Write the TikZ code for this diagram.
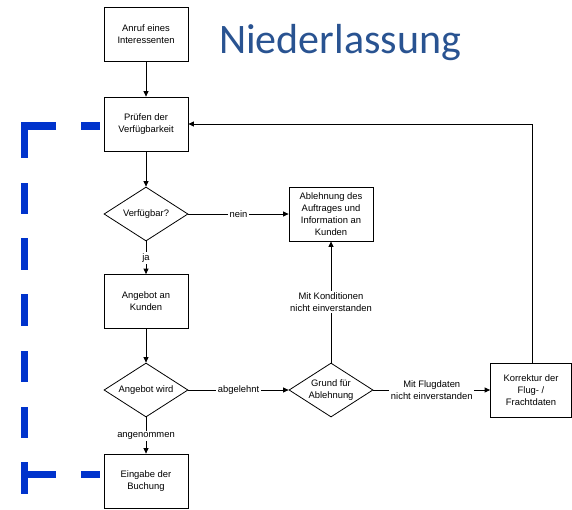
\documentclass[tikz,border=0pt]{standalone}
\usepackage{fontspec}
\setmainfont{Liberation Sans}
\newfontfamily\titlefont{Carlito}
\usetikzlibrary{shapes.geometric,arrows.meta}
\definecolor{brkblue}{RGB}{0,51,204}
\definecolor{titleblue}{RGB}{41,83,145}
\begin{document}
\begin{tikzpicture}[x=1pt,y=-1pt,
  every node/.style={font=\fontsize{9.4}{12}\selectfont},
  proc/.style={draw=black, line width=0.8pt, minimum width=84pt, minimum height=54pt, inner sep=0pt, align=center},
  dec/.style={diamond, draw=black, line width=0.8pt, minimum width=84pt, minimum height=54pt, inner sep=0pt, aspect=1.556, align=center},
  conn/.style={line width=0.8pt, -{Triangle[length=5.5pt,width=5pt]}},
  lbl/.style={fill=white, inner sep=1.5pt, align=center},
  brk/.style={brkblue, line width=7.7pt, line join=miter},
]
\useasboundingbox (0,0) rectangle (572,509);

% title
\node[anchor=base west, inner sep=0pt, font=\titlefont\fontsize{42}{42}\selectfont, text=titleblue] (title) at (219,53.3) {Niederlassung};

% nodes
\node[proc] (anruf) at (146,34) {Anruf eines\\Interessenten};
\node[proc] (pruef) at (146,124) {Prüfen der\\Verfügbarkeit};
\node[dec] (verf) at (146,214) {Verfügbar?};
\node[proc] (abl) at (331,214) {Ablehnung des\\Auftrages und\\Information an\\Kunden};
\node[proc] (angebot) at (146,301.5) {Angebot an\\Kunden};
\node[dec] (angwird) at (146,390) {Angebot wird};
\node[dec] (grund) at (331,390) {Grund für\\Ablehnung};
\node[proc, minimum width=81pt] (korr) at (531,390) {Korrektur der\\Flug- /\\Frachtdaten};
\node[proc] (eingabe) at (146,481) {Eingabe der\\Buchung};

% connectors
\draw[conn] (anruf) -- (pruef);
\draw[conn] (pruef) -- (verf);
\draw[conn] (verf.east) -- node[lbl]{nein} (abl.west);
\draw[conn] (verf.south) -- node[lbl]{ja} (angebot.north);
\draw[conn] (angebot) -- (angwird);
\draw[conn] (angwird.east) -- node[lbl]{abgelehnt} (grund.west);
\draw[conn] (angwird.south) -- node[lbl]{angenommen} (eingabe.north);
\draw[conn] (grund.north) -- node[lbl]{Mit Konditionen\\nicht einverstanden} (abl.south);
\draw[conn] (grund.east) -- node[lbl]{Mit Flugdaten\\nicht einverstanden} (korr.west);
\draw[conn] ([xshift=1.5pt]korr.north) |- (pruef.east);

% blue dashed bracket
\draw[brk] (56,126.2) -- (24.5,126.2) -- (24.5,158);
\draw[brk] (81,126.2) -- (100,126.2);
\foreach \a/\b in {183/214, 238/270, 294/326, 351/382, 407/438, 462/494}
  \draw[brk] (24.5,\a) -- (24.5,\b);
\draw[brk] (24.5,474.5) -- (56,474.5);
\draw[brk] (81,474.5) -- (100,474.5);
\end{tikzpicture}
\end{document}
